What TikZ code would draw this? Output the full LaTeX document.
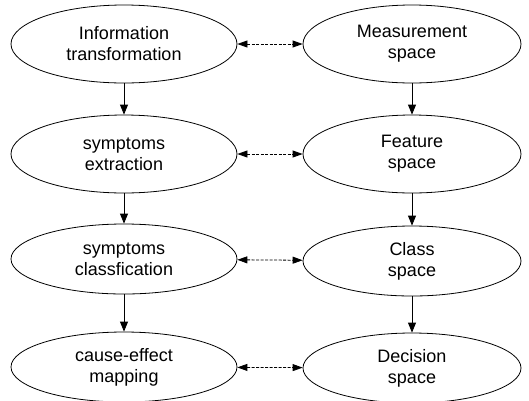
\documentclass[tikz,border=0pt]{standalone}
\usepackage{fontspec}
\setmainfont{Liberation Sans}
\usetikzlibrary{shapes.geometric,arrows.meta}
\begin{document}
\begin{tikzpicture}[x=1pt,y=-1pt,
  stage/.style={draw,ellipse,line width=0.8pt,inner sep=0pt,minimum width=226pt,minimum height=78pt,align=center,font=\fontsize{18}{21}\selectfont},
  space/.style={stage,minimum width=218pt},
  flow/.style={line width=0.8pt,-{Triangle[length=10pt,width=8pt]}},
  link/.style={line width=0.8pt,dash pattern=on 3pt off 1.5pt,{Triangle[length=10pt,width=7pt]}-{Triangle[length=10pt,width=7pt]}}]
\useasboundingbox (0,0) rectangle (529,400);
% left column
\node[stage] (info) at (124,44) {Information\\transformation};
\node[stage] (sext) at (124,154) {symptoms\\extraction};
\node[stage,minimum height=70pt] (scls) at (124,259) {symptoms\\classfication};
\node[stage,minimum height=70pt] (cause) at (124,367) {cause-effect\\mapping};
% right column
\node[space] (meas) at (412,44) {Measurement\\space};
\node[space] (feat) at (412,154) {Feature\\space};
\node[space,minimum height=70pt] (clsp) at (412,261) {Class\\space};
\node[space,minimum height=70pt] (dec) at (412,368) {Decision\\space};
% vertical flow
\draw[flow] (info) -- (sext);
\draw[flow] (sext) -- (scls);
\draw[flow] (scls) -- (cause);
\draw[flow] (meas) -- (feat);
\draw[flow] (feat) -- (clsp);
\draw[flow] (clsp) -- (dec);
% correspondences
\draw[link] (info) -- (meas);
\draw[link] (sext) -- (feat);
\draw[link] (scls) -- (clsp);
\draw[link] (cause) -- (dec);
\end{tikzpicture}
\end{document}
